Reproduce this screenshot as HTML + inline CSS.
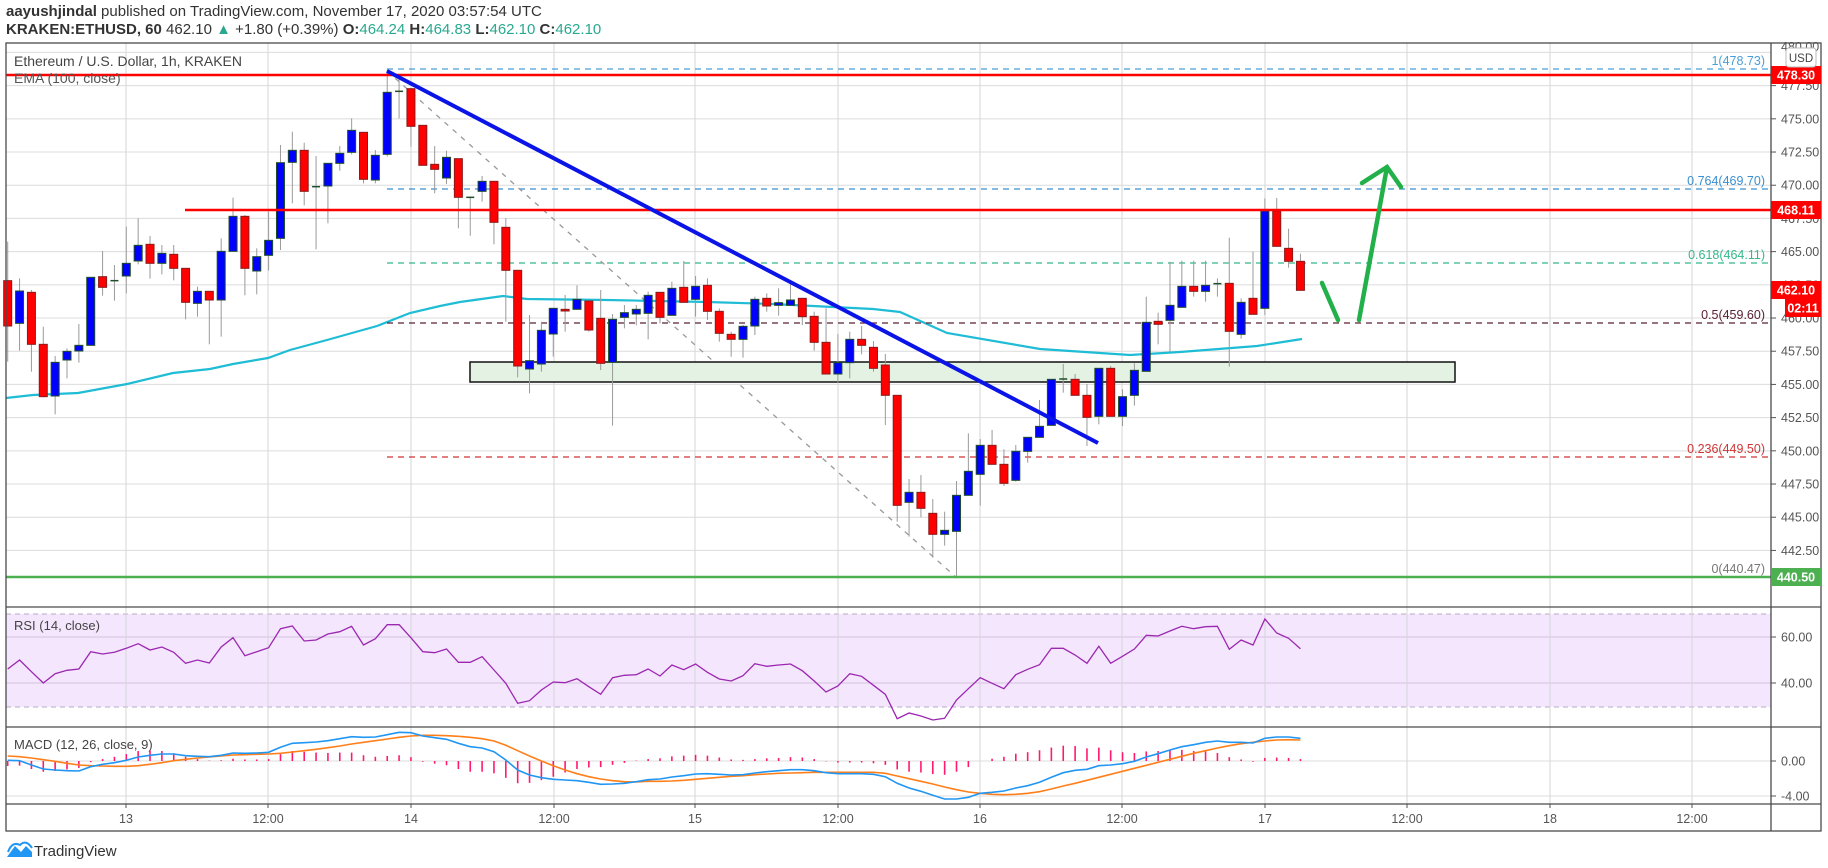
<!DOCTYPE html>
<html><head><meta charset="utf-8">
<style>
html,body{margin:0;padding:0;background:#fff;}
body{width:1828px;height:868px;overflow:hidden;position:relative;font-family:"Liberation Sans",sans-serif;}
.hdr{position:absolute;left:6px;font-size:15px;color:#333;white-space:nowrap;}
.g{color:#2aa88f;}
</style></head><body>
<div class="hdr" style="top:3px;"><b>aayushjindal</b> published on TradingView.com, November 17, 2020 03:57:54 UTC</div>
<div class="hdr" style="top:21px;"><b>KRAKEN:ETHUSD, 60</b> 462.10 <span class="g">▲</span> +1.80 (+0.39%) <b>O:</b><span class="g">464.24</span> <b>H:</b><span class="g">464.83</span> <b>L:</b><span class="g">462.10</span> <b>C:</b><span class="g">462.10</span></div>
<svg id="s" width="1828" height="868" style="position:absolute;left:0;top:0" xmlns="http://www.w3.org/2000/svg"></svg>
<script>
var S=document.getElementById('s');var h='';
function X(t){return 126.3+11.86*t;}
function Y(p){return 75+(478.3-p)*13.28;}
var L=6,R=1771,RR=1821,T=43,MB=607,RB=727,MCB=804,TB=831;
// gridlines
var vx=[126,268,411,554,695,838,980,1122,1265,1407,1550,1692];
var vl=['13','12:00','14','12:00','15','12:00','16','12:00','17','12:00','18','12:00'];
for(var p=442.5;p<=480.1;p+=2.5){var y=Y(p);if(y>T&&y<MB)h+='<line x1="'+L+'" x2="'+R+'" y1="'+y+'" y2="'+y+'" stroke="#dcdcdc"/>';}
// RSI band
h+='<rect x="'+L+'" y="614" width="'+(R-L)+'" height="93" fill="#f3e6fd"/>';
h+='<line x1="'+L+'" x2="'+R+'" y1="614" y2="614" stroke="#b9a9c6" stroke-dasharray="5,4"/>';
h+='<line x1="'+L+'" x2="'+R+'" y1="707" y2="707" stroke="#b9a9c6" stroke-dasharray="5,4"/>';
h+='<line x1="'+L+'" x2="'+R+'" y1="637" y2="637" stroke="#d5c3e0"/>';
h+='<line x1="'+L+'" x2="'+R+'" y1="683" y2="683" stroke="#d5c3e0"/>';
h+='<line x1="'+L+'" x2="'+R+'" y1="761" y2="761" stroke="#dcdcdc"/>';
h+='<line x1="'+L+'" x2="'+R+'" y1="796" y2="796" stroke="#dcdcdc"/>';
for(var i=0;i<vx.length;i++){h+='<line x1="'+vx[i]+'" x2="'+vx[i]+'" y1="'+T+'" y2="'+MCB+'" stroke="#d6d6d6"/>';
 h+='<line x1="'+vx[i]+'" x2="'+vx[i]+'" y1="'+MCB+'" y2="'+(MCB+4)+'" stroke="#555"/>';
 h+='<text x="'+vx[i]+'" y="823" font-size="12.5" fill="#555" text-anchor="middle">'+vl[i]+'</text>';}
// price axis labels
for(var p=442.5;p<=477.6;p+=2.5){var y=Y(p);h+='<line x1="'+R+'" x2="'+(R+5)+'" y1="'+y+'" y2="'+y+'" stroke="#555"/><text x="1781" y="'+(y+4.5)+'" font-size="12.5" fill="#555">'+p.toFixed(2)+'</text>';}
h+='<text x="1781" y="51" font-size="12.5" fill="#555">480.00</text>';
[[60,'60.00',637],[40,'40.00',683],[0,'0.00',761],[-4,'-4.00',796]].forEach(function(a){h+='<line x1="'+R+'" x2="'+(R+5)+'" y1="'+a[2]+'" y2="'+a[2]+'" stroke="#555"/><text x="1781" y="'+(a[2]+4.5)+'" font-size="12.5" fill="#555">'+a[1]+'</text>';});
// EMA
var ema=[[6,398],[33,395],[78,393],[127,384],[173,373],[210,369],[233,364],[268,358],[290,350],[327,340],[377,326],[410,313],[440,306],[460,302],[503,296],[527,299],[607,300],[707,302],[773,304],[873,309],[900,312],[947,333],[1040,349],[1130,355],[1180,352],[1257,346],[1302,339]];
h+='<polyline fill="none" stroke="#1fbcd6" stroke-width="2.2" points="'+ema.map(function(a){return a.join(',')}).join(' ')+'"/>';
// Fib dashed levels
[[69,'#4a9fd8','1(478.73)'],[189,'#3a8fd0','0.764(469.70)'],[263,'#35b88a','0.618(464.11)'],[323,'#5a2035','0.5(459.60)'],[457,'#d03535','0.236(449.50)']].forEach(function(f){
 h+='<line x1="387" x2="'+R+'" y1="'+f[0]+'" y2="'+f[0]+'" stroke="'+f[1]+'" stroke-width="1.3" stroke-dasharray="6,5"/>';
 h+='<text x="1765" y="'+(f[0]-4)+'" font-size="12.5" fill="'+f[1]+'" text-anchor="end">'+f[2]+'</text>';});
h+='<text x="1765" y="573" font-size="12.5" fill="#777" text-anchor="end">0(440.47)</text>';
// diag fib
h+='<line x1="387" y1="71" x2="957" y2="578" stroke="#999" stroke-width="1.3" stroke-dasharray="5,6"/>';
// green box
h+='<rect x="470" y="362" width="985" height="20" fill="#e3f2e3" stroke="#111" stroke-width="1.5"/>';
// candles
var A=[[662,798,545,905,'r'],[693,790,655,872,'b'],[697,853,690,935,'r'],[853,1010,800,1012,'r'],[907,1008,888,1063,'b'],[874,900,865,955,'b'],[856,873,792,908,'b'],[652,856,652,856,'b'],[650,682,573,707,'r'],[662,662,615,722,'d'],[610,648,500,700,'b'],[556,603,475,613,'b'],[553,610,528,656,'r'],[580,610,555,643,'b'],[583,625,555,661,'r'],[625,727,625,778,'r'],[694,730,680,770,'b'],[694,720,694,853,'r'],[574,720,535,830,'b'],[469,574,413,574,'b'],[469,625,465,706,'r'],[590,633,565,703,'b'],[541,586,455,632,'b'],[308,535,255,570,'b'],[271,307,215,430,'b'],[271,394,248,436,'r'],[380,380,288,568,'d'],[310,378,310,490,'b'],[280,310,258,332,'b'],[211,277,175,283,'b'],[217,358,217,370,'r'],[286,360,270,370,'b'],[97,283,30,290,'b'],[94,94,55,175,'d'],[86,199,86,260,'r'],[196,316,196,316,'r'],[313,328,258,400,'r'],[292,354,272,372,'b'],[296,412,296,505,'r'],[412,412,412,527,'d'],[364,394,348,425,'b'],[364,487,364,553,'r'],[502,631,474,785,'r'],[631,918,631,952,'r'],[902,927,765,1000,'b'],[811,912,785,935,'b'],[745,822,745,890,'b'],[748,753,705,815,'r'],[718,748,676,748,'b'],[723,810,723,815,'r'],[775,910,690,930,'r'],[778,907,762,1097,'b'],[758,772,735,805,'b'],[748,762,735,796,'b'],[706,760,695,838,'b'],[697,772,697,790,'r'],[685,766,665,766,'b'],[682,727,603,727,'r'],[679,718,648,770,'b'],[676,754,655,780,'r'],[754,820,745,845,'r'],[823,838,815,890,'r'],[799,838,795,893,'b'],[718,798,710,825,'b'],[715,738,700,755,'r'],[728,736,685,767,'b'],[720,736,672,736,'b'],[715,770,715,795,'r'],[769,847,755,872,'r'],[847,942,745,942,'r'],[908,942,822,968,'b'],[838,908,815,955,'b'],[838,856,798,883,'r'],[862,925,843,935,'r']];
var B=[[495,586,462,675,'r'],[586,916,586,965,'r'],[877,907,837,1010,'b'],[877,925,825,952,'r'],[940,1003,897,1073,'r'],[991,1003,935,1037,'b'],[886,994,843,1135,'b'],[814,886,700,886,'b'],[736,823,717,917,'b'],[736,793,690,793,'r'],[793,850,748,858,'r'],[754,841,735,845,'b'],[712,754,712,788,'b'],[679,712,600,712,'b'],[538,676,538,676,'b'],[537,537,492,578,'d'],[538,586,522,586,'r'],[586,652,552,738,'r'],[505,649,505,673,'b'],[505,649,498,649,'r'],[590,649,568,678,'b'],[511,586,490,617,'b'],[367,514,290,514,'b'],[364,373,338,433,'r'],[316,361,185,455,'b'],[259,322,182,322,'b'],[259,274,182,290,'r'],[256,274,182,305,'b'],[251,251,235,290,'d'],[250,394,113,500,'r'],[307,403,295,416,'b'],[295,343,155,343,'r'],[33,325,-5,345,'b'],[33,139,-6,139,'r'],[145,184,86,203,'r'],[184,271,161,271,'r']];
function cand(t,c,off){var x=X(t),bt=off+c[0]/3,bb=off+c[1]/3,wt=off+c[2]/3,wb=off+c[3]/3;
 h+='<line x1="'+x+'" x2="'+x+'" y1="'+wt+'" y2="'+wb+'" stroke="#9a9a9a"/>';
 if(c[4]=='d'){h+='<line x1="'+(x-4)+'" x2="'+(x+4)+'" y1="'+bt+'" y2="'+bt+'" stroke="#1f4d2a" stroke-width="1.5"/>';return;}
 var f=c[4]=='r'?'#ff0000':'#0000ff',s=c[4]=='r'?'#8b1a1a':'#1f4d2a';
 h+='<rect x="'+(x-4)+'" y="'+bt+'" width="8" height="'+Math.max(1,bb-bt)+'" fill="'+f+'" stroke="'+s+'" stroke-width="1"/>';}
A.forEach(function(c,i){cand(i-10,c,60);});
B.forEach(function(c,i){cand(i+64,c,200);});
// horizontal lines
h+='<line x1="'+L+'" x2="'+R+'" y1="75" y2="75" stroke="#ff0000" stroke-width="2.5"/>';
h+='<line x1="185" x2="'+R+'" y1="210" y2="210" stroke="#ff0000" stroke-width="2.5"/>';
h+='<line x1="'+L+'" x2="'+R+'" y1="577" y2="577" stroke="#4caf50" stroke-width="2.5"/>';
// blue trendline
h+='<line x1="387" y1="71" x2="1098" y2="443" stroke="#0a14e6" stroke-width="4"/>';
// green arrow
h+='<g stroke="#22b04a" stroke-width="4.5" fill="none" stroke-linecap="round"><line x1="1322" y1="283" x2="1338" y2="320"/><polyline points="1359,320 1387,167"/><polyline points="1362,183 1387,167 1401,187"/></g>';
// RSI
var r8=[207,180,215,249,221,211,207,155,162,157,145,131,150,141,157,190,180,189,141,113,167,155,143,86,78,123,120,102,95,79,135,116,74,74,113,155,158,147,187,187,170,210,250,310,302,270,246,248,236,260,283,233,226,224];
var r9=[207,228,195,209,192,217,237,243,227,191,199,195,192,212,243,276,258,221,229,256,283,356,339,348,360,355,300,266,233,250,266,224,208,194,145,145,165,190,139,190,169,147,106,108,93,79,86,80,79,148,120,135,57,99,115,146];
var rp=[];r8.forEach(function(v,i){rp.push(X(i-10).toFixed(1)+','+(600+v/3).toFixed(1));});r9.forEach(function(v,i){rp.push(X(i+44).toFixed(1)+','+(600+v/3).toFixed(1));});
h+='<polyline fill="none" stroke="#9c27b0" stroke-width="1.3" points="'+rp.join(' ')+'"/>';
// MACD
var b8=[481,482,495,507,510,512,513,500,493,488,481,471,466,462,462,467,469,470,466,459,460,459,457,442,430,428,426,422,416,410,412,411,404,397,398,408,413,418,430,440,444,455,480,510,525,533,538,540,542,547,553,552,550,545];
var o8=[468,470,474,479,484,490,495,497,498,499,499,497,493,488,482,478,474,471,468,465,464,463,462,460,456,452,448,443,438,432,427,422,417,412,408,406,406,407,409,412,416,423,436,452,468,483,497,510,521,530,537,542,545,546];
var b9=[539,537,531,527,522,521,523,525,524,519,515,512,509,509,512,518,521,521,521,523,530,550,564,574,586,597,597,592,580,577,573,564,557,547,532,518,511,508,497,495,491,484,471,461,450,440,434,427,423,427,427,429,415,411,411,415];
var o9=[544,544,543,541,538,535,532,529,527,524,522,520,519,518,517,517,517,517,517,517,520,528,536,544,552,561,569,576,580,583,584,583,580,575,567,558,550,541,532,523,514,505,496,487,478,469,460,452,444,437,431,427,423,420,419,420];
var bl=b8.concat(b9),ol=o8.concat(o9),bp=[],op=[];
for(var i=0;i<bl.length;i++){var t=i-10,x=X(t);bp.push(x.toFixed(1)+','+(600+bl[i]/3).toFixed(1));op.push(x.toFixed(1)+','+(600+ol[i]/3).toFixed(1));
 var d=(ol[i]-bl[i])*1.15/3;h+='<line x1="'+x+'" x2="'+x+'" y1="761" y2="'+(761-d)+'" stroke="#ff1a6e" stroke-width="1.6"/>';}
h+='<polyline fill="none" stroke="#ff7f1a" stroke-width="1.6" points="'+op.join(' ')+'"/>';
h+='<polyline fill="none" stroke="#2196f3" stroke-width="1.6" points="'+bp.join(' ')+'"/>';
// borders
h+='<rect x="'+L+'" y="'+T+'" width="'+(RR-L)+'" height="'+(TB-T)+'" fill="none" stroke="#4a4a4a" stroke-width="1.3"/>';
h+='<line x1="'+R+'" x2="'+R+'" y1="'+T+'" y2="'+TB+'" stroke="#4a4a4a" stroke-width="1.3"/>';
[MB,RB,MCB].forEach(function(y){h+='<line x1="'+L+'" x2="'+RR+'" y1="'+y+'" y2="'+y+'" stroke="#4a4a4a" stroke-width="1.3"/>';});
// legends
h+='<text x="14" y="66" font-size="14" fill="#444">Ethereum / U.S. Dollar, 1h, KRAKEN</text>';
h+='<text x="14" y="83" font-size="14" fill="#555">EMA (100, close)</text>';
h+='<text x="14" y="630" font-size="13" fill="#444">RSI (14, close)</text>';
h+='<text x="14" y="749" font-size="13" fill="#444">MACD (12, 26, close, 9)</text>';
// price labels
function pl(y,txt,col,x0){x0=x0||R;h+='<rect x="'+x0+'" y="'+(y-9)+'" width="'+(RR-x0)+'" height="18" fill="'+col+'"/><text x="'+(x0+(RR-x0)/2)+'" y="'+(y+4.5)+'" font-size="12.5" font-weight="bold" fill="#fff" text-anchor="middle">'+txt+'</text>';}
pl(75,'478.30','#ff0000');pl(210,'468.11','#ff0000');pl(290,'462.10','#ff0000');pl(308,'02:11','#ff0000',1785);pl(577,'440.50','#4caf50');
h+='<rect x="1786" y="48" width="30" height="19" rx="3" fill="#fff" stroke="#bbb"/><text x="1801" y="62" font-size="11.5" fill="#444" text-anchor="middle">USD</text>';
// logo
h+='<path d="M7,857 L15,846 L21,852 L26,846 L32,852 L32,857 Z" fill="#2196f3"/><path d="M8,852 Q12,841 20,845 Q26,839 32,848" fill="none" stroke="#2196f3" stroke-width="2"/>';
h+='<text x="34" y="856" font-size="15" fill="#333">TradingView</text>';
S.innerHTML=h;
</script>
</body></html>
